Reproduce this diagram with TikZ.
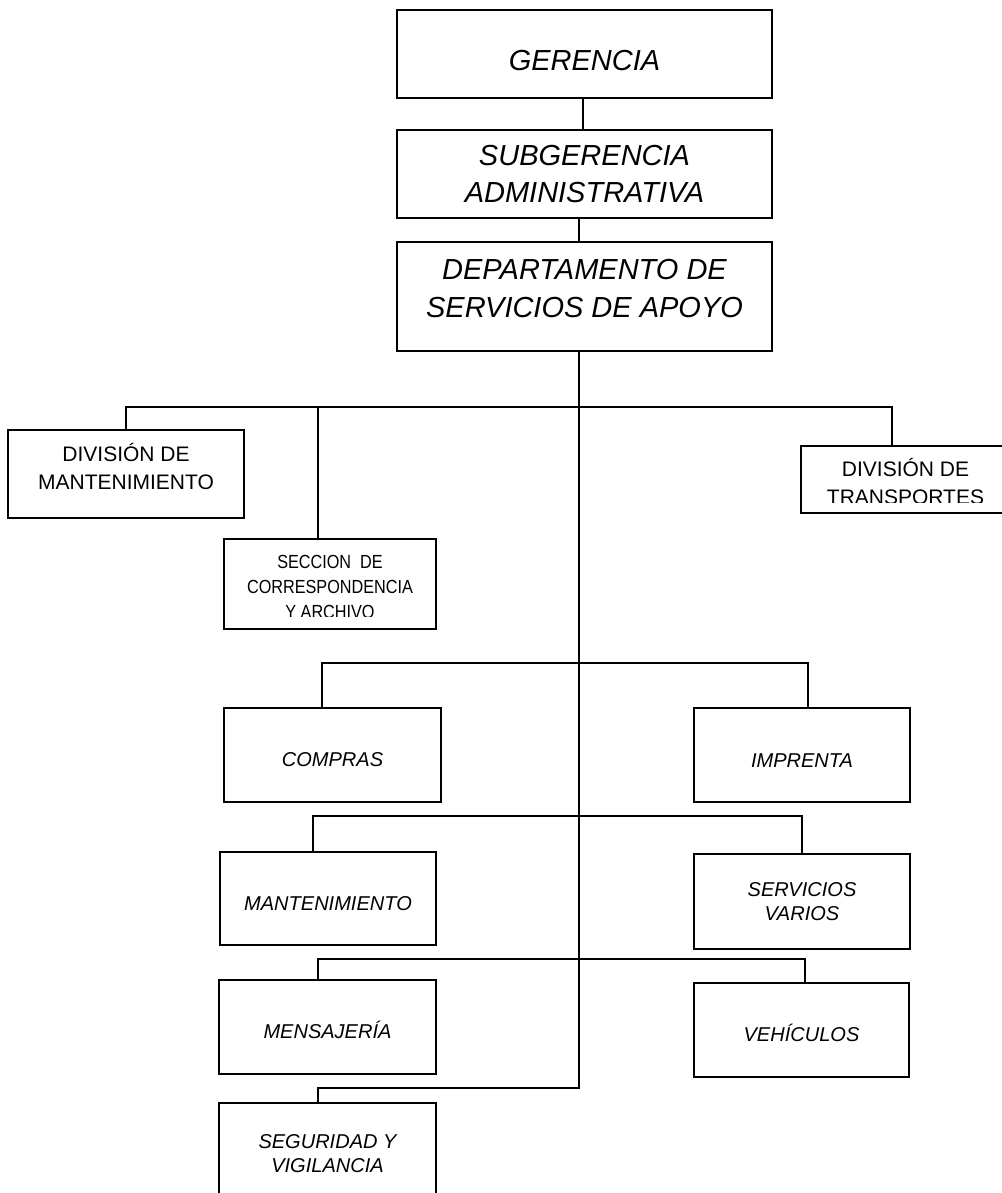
\documentclass[tikz,border=0pt]{standalone}
\usepackage{fontspec}
\setmainfont{Liberation Sans}
\newfontfamily\narrowfont[FakeStretch=0.855]{Liberation Sans}
\tikzset{
  box/.style={draw, rectangle, line width=1pt, inner sep=0pt, align=center},
  bigtext/.style={font=\itshape\fontsize{16.5pt}{21.6pt}\selectfont},
  divtext/.style={font=\fontsize{11.95pt}{15.9pt}\selectfont},
  smalltext/.style={font=\itshape\fontsize{11.4pt}{13.9pt}\selectfont},
  narrowtext/.style={font=\narrowfont\fontsize{10.8pt}{14.2pt}\selectfont},
  link/.style={line width=1pt}
}
\begin{document}
\begin{tikzpicture}[x=0.02cm, y=-0.02cm]
\useasboundingbox (0,0) rectangle (1001,1193);

% Top of the chart
\node[box, bigtext, minimum width=7.5cm, minimum height=1.76cm, text height=0.68cm] (ger) at (584.5,54) {GERENCIA};
\node[box, bigtext, minimum width=7.5cm, minimum height=1.76cm] (subger) at (584.5,174) {SUBGERENCIA\\ADMINISTRATIVA};
\node[box, bigtext, minimum width=7.5cm, minimum height=2.18cm, text depth=0.34cm] (dept) at (584.5,296.5) {DEPARTAMENTO DE\\SERVICIOS DE APOYO};

% Divisions and section
\node[box, divtext, minimum width=4.72cm, minimum height=1.76cm, text depth=0.31cm] (divmant) at (126,474) {DIVISIÓN DE\\MANTENIMIENTO};
\node[box, minimum width=4.24cm, minimum height=1.8cm] (seccion) at (330,584) {};
\begin{scope}
  \clip (224,539) rectangle (436,616);
  \node[narrowtext, inner sep=0pt, align=center] (secciontext) at (330,587) {SECCION~ DE\\CORRESPONDENCIA\\Y ARCHIVO};
\end{scope}
\node[box, minimum width=4.6cm, minimum height=1.34cm] (divtrans) at (916,479.5) {};
\begin{scope}
  \clip (801,446) rectangle (1010,502);
  \node[divtext, inner sep=0pt, align=center] (divtranstext) at (905.5,481.5) {DIVISIÓN DE\\TRANSPORTES};
\end{scope}

% Units
\node[box, smalltext, minimum width=4.34cm, minimum height=1.88cm, text height=0.48cm] (compras) at (332.5,755) {COMPRAS};
\node[box, smalltext, minimum width=4.32cm, minimum height=1.88cm, text height=0.48cm] (imprenta) at (802,755) {IMPRENTA};
\node[box, smalltext, minimum width=4.32cm, minimum height=1.86cm, text height=0.48cm] (mant) at (328,898.5) {MANTENIMIENTO};
\node[box, smalltext, minimum width=4.32cm, minimum height=1.9cm] (servicios) at (802,901.5) {SERVICIOS\\VARIOS};
\node[box, smalltext, minimum width=4.34cm, minimum height=1.88cm, text height=0.48cm] (mensajeria) at (327.5,1027) {MENSAJERÍA};
\node[box, smalltext, minimum width=4.3cm, minimum height=1.88cm, text height=0.48cm] (vehiculos) at (801.5,1030) {VEHÍCULOS};
\node[box, smalltext, minimum width=4.34cm, minimum height=2.02cm] (seguridad) at (327.5,1153.5) {SEGURIDAD Y\\VIGILANCIA};

% Junctions on the trunk
\coordinate (j1) at (579,407);
\coordinate (j2) at (579,663);
\coordinate (j3) at (579,816);
\coordinate (j4) at (579,959);
\coordinate (j5) at (579,1088);

% Connectors
\draw[link] ([xshift=-0.03cm]ger.south) -- ([xshift=-0.03cm]subger.north);
\draw[link] (subger.south -| j1) -- (dept.north -| j1);
\draw[link] (dept.south -| j1) -- (j5) -| ([xshift=-0.19cm]seguridad.north);
\draw[link] (j1) -| (divmant.north);
\draw[link] (j1) -| ([xshift=-0.24cm]seccion.north);
\draw[link] (j1) -| ([xshift=-0.48cm]divtrans.north);
\draw[link] (j2) -| ([xshift=-0.21cm]compras.north);
\draw[link] (j2) -| ([xshift=0.12cm]imprenta.north);
\draw[link] (j3) -| ([xshift=-0.3cm]mant.north);
\draw[link] (j3) -| (servicios.north);
\draw[link] (j4) -| ([xshift=-0.19cm]mensajeria.north);
\draw[link] (j4) -| ([xshift=0.07cm]vehiculos.north);

\end{tikzpicture}
\end{document}
